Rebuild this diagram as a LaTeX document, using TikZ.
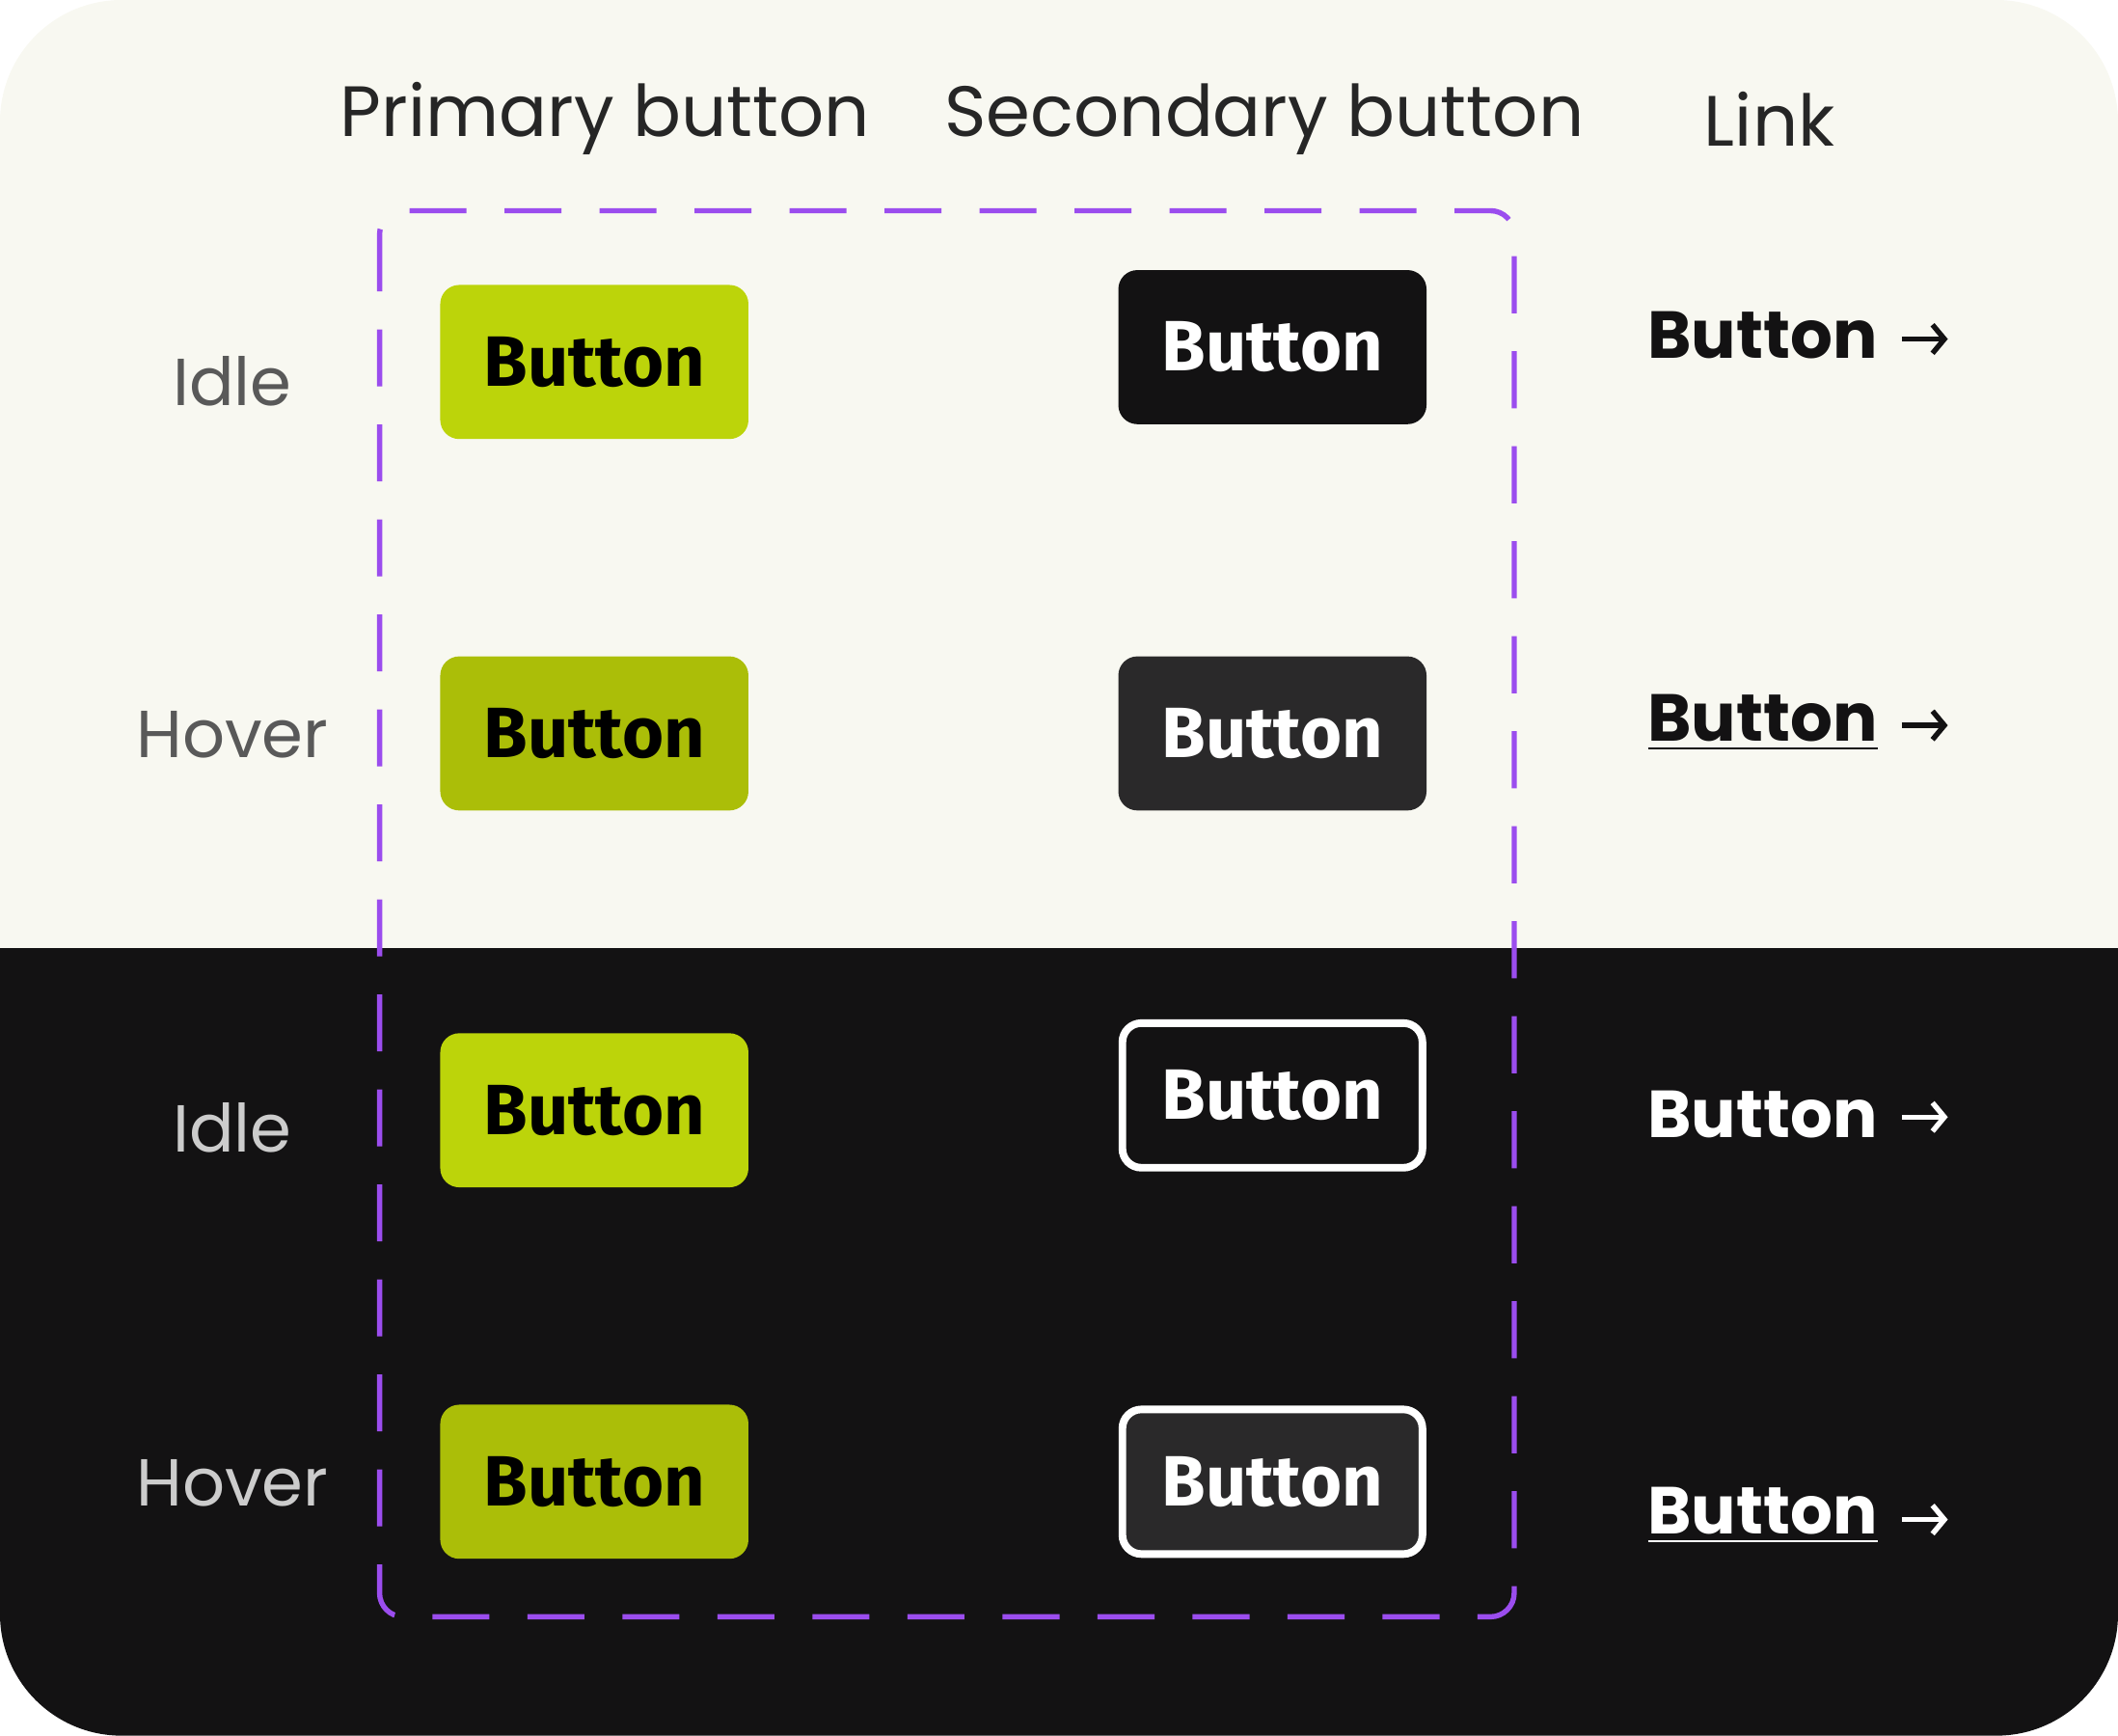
\documentclass[tikz,border=0pt]{standalone}
\usepackage{fontspec}
\setmainfont{Poppins}
\newfontfamily\btnfont{Fira Sans}
\usetikzlibrary{arrows.meta}
\definecolor{cream}{HTML}{F8F8F1}
\definecolor{night}{HTML}{131213}
\definecolor{slate}{HTML}{2A292A}
\definecolor{lime}{HTML}{BCD40A}
\definecolor{limedark}{HTML}{ABBE08}
\definecolor{violet}{HTML}{9B4DEE}
\tikzset{
  head/.style={text=black!85, font=\fontsize{15}{18}\selectfont},
  state/.style={font=\fontsize{14}{17}\selectfont},
  btn/.style={minimum width=2.28cm, minimum height=1.14cm, rounded corners=4pt,
    font=\btnfont\bfseries\fontsize{15}{18}\selectfont, inner sep=0pt},
  prim/.style={btn, fill=lime, text=black},
  primh/.style={btn, fill=limedark, text=black},
  sec/.style={btn, fill=night, text=white},
  sech/.style={btn, fill=slate, text=white},
  link/.style={font=\bfseries\fontsize{14}{17}\selectfont, inner sep=1pt},
  arr/.style={-{Straight Barb[length=2.5pt,width=6pt]}, line width=1.1pt}
}
\begin{document}
\begin{tikzpicture}[x=0.01cm,y=-0.01cm]
\useasboundingbox (0,0) rectangle (1568,1285);
\begin{scope}
\clip[rounded corners=0.9cm] (0,0) rectangle (1568,1285);
\fill[cream] (0,0) rectangle (1568,702);
\fill[night] (0,702) rectangle (1568,1285);
\end{scope}

% column heads
\node[head] (hprim) at (448,88) {Primary button};
\node[head] (hsec) at (936,88) {Secondary button};
\node[head] (hlink) at (1310,88) {Link};

% states
\node[state, text=black!65] (s1) at (172,282) {Idle};
\node[state, text=black!65] (s2) at (172,544) {Hover};
\node[state, text=black!20] (s3) at (172,835) {Idle};
\node[state, text=black!20] (s4) at (172,1098) {Hover};

% primary
\node[prim] (p1) at (440,268) {Button};
\node[primh] (p2) at (440,543) {Button};
\node[prim] (p3) at (440,822) {Button};
\node[primh] (p4) at (440,1097) {Button};

% secondary
\node[sec] (q1) at (942,257) {Button};
\node[sech] (q2) at (942,543) {Button};
\node[sec, draw=white, line width=1.6pt, minimum width=2.22cm, minimum height=1.07cm] (q3) at (942,811) {Button};
\node[sech, draw=white, line width=1.6pt, minimum width=2.22cm, minimum height=1.07cm] (q4) at (942,1097) {Button};

% links
\node[link, text=night] (k1) at (1305,248) {Button};
\node[link, text=night] (k2) at (1305,535) {\underline{Button}};
\node[link, text=white] (k3) at (1305,825) {Button};
\node[link, text=white] (k4) at (1305,1122) {\underline{Button}};
\draw[arr, night] (1408,251) -- (1442,251);
\draw[arr, night] (1408,537) -- (1442,537);
\draw[arr, white] (1408,827) -- (1442,827);
\draw[arr, white] (1408,1125) -- (1442,1125);

% group frame
\draw[violet, line width=1.1pt, dash pattern=on 12pt off 8pt, rounded corners=5pt]
  (281,156) rectangle (1121,1197);
\end{tikzpicture}
\end{document}
